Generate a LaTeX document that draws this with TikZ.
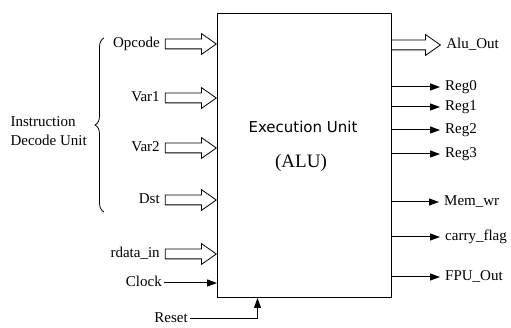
\documentclass[tikz,border=0pt]{standalone}
\usepackage{fontspec}
\setmainfont{Liberation Serif}
\newfontfamily\unitfont{DejaVu Sans}
\usetikzlibrary{arrows.meta,positioning,shapes.arrows,decorations.pathreplacing}

\begin{document}
\begin{tikzpicture}[
  x=1pt, y=-1pt,
  font=\fontsize{15}{19}\selectfont,
  unit/.style={draw, line width=1pt, minimum width=174pt, minimum height=284pt, anchor=north west},
  lbl/.style={inner sep=2pt, text height=10pt, text depth=3pt},
  fat/.style={single arrow, draw, line width=0.8pt, inner sep=0pt, inner ysep=4.5pt, minimum width=0pt,
    single arrow head extend=5.5pt, single arrow tip angle=70, single arrow head indent=0pt},
  sig/.style={-{Triangle[length=10pt, width=7pt]}, line width=1pt},
  outsig/.style={sig, shorten >=3pt}
]
\useasboundingbox (0,0) rectangle (511,328);

% execution unit
\node[unit] (alu) at (217,13) {};
\node[font=\unitfont\fontsize{15}{18}\selectfont] (exu) at (303,127) {Execution Unit};
\node[font=\fontsize{19}{22}\selectfont] (alutxt) at (301,163) {(ALU)};

% wide inputs
\node[fat, anchor=tip, minimum height=51pt] (opA) at (217,44) {};
\node[fat, anchor=tip, minimum height=51pt] (v1A) at (217,98) {};
\node[fat, anchor=tip, minimum height=51pt] (v2A) at (217,148) {};
\node[fat, anchor=tip, minimum height=51pt] (dstA) at (217,200) {};
\node[fat, anchor=tip, minimum height=51pt] (rdA) at (217,254) {};

\node[lbl, left=3pt of opA.tail] (op) {Opcode};
\node[lbl, left=3pt of v1A.tail] (v1) {Var1};
\node[lbl, left=3pt of v2A.tail] (v2) {Var2};
\node[lbl, left=3pt of dstA.tail] (dst) {Dst};
\node[lbl, left=3pt of rdA.tail] (rd) {rdata\_in};

% decode unit brace
\draw[decorate, decoration={brace, amplitude=9pt}, line width=0.8pt] (104,212) -- (104,38);
\node[align=left, anchor=east, inner sep=2pt] (idu) at (89,131) {Instruction\\Decode Unit};

% clock and reset
\node[lbl, anchor=east] (clk) at (164,283) {Clock};
\draw[sig] (clk) -- (clk -| alu.west);
\node[lbl, anchor=east] (rst) at (190,319) {Reset};
\draw[sig] (rst) -| ([xshift=-47pt]alu.south);

% outputs
\node[fat, anchor=tail, minimum height=49pt] (aoA) at (391,45) {};
\node[lbl, right=3pt of aoA.tip] (ao) {Alu\_Out};

\node[lbl, anchor=west] (r0) at (443,87) {Reg0};
\node[lbl, anchor=west] (r1) at (443,107) {Reg1};
\node[lbl, anchor=west] (r2) at (443,130) {Reg2};
\node[lbl, anchor=west] (r3) at (443,154) {Reg3};
\node[lbl, anchor=west] (mw) at (442,202) {Mem\_wr};
\node[lbl, anchor=west] (cf) at (443,237) {carry\_flag};
\node[lbl, anchor=west] (fpu) at (443,277) {FPU\_Out};

\foreach \o in {r0,r1,r2,r3,mw,cf,fpu}
  \draw[outsig] (\o -| alu.east) -- (\o.west);

\end{tikzpicture}
\end{document}
